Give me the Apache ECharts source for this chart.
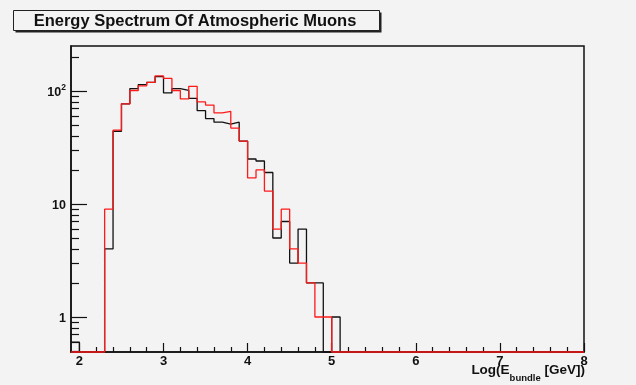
<!DOCTYPE html>
<html>
<head>
<meta charset="utf-8">
<script src="https://cdn.jsdelivr.net/npm/echarts@6/dist/echarts.min.js"></script>
<style>
  html, body { margin: 0; padding: 0; background: #f3f3f3; }
  #chart { width: 636px; height: 385px; }
</style>
</head>
<body>
<div id="chart"></div>
<script>
// Histogram binning: first bin starts at 1.9, bins are 0.1 wide in log10(E/GeV)
const binLowEdge = 1.9;
const binWidth = 0.1;

// Bin contents from 1.9 up to 5.1 (all later bins are empty)
const countsBlack = [0.6, 0, 0, 0, 4, 44, 77, 105, 114, 119, 134, 96, 105, 101, 86, 67,
                     57, 53, 51, 53, 36, 25, 24, 19, 5, 7, 3, 6, 2, 2, 0, 1];
const countsRed   = [0, 0, 0, 0, 9, 45, 77, 101, 111, 119, 136, 129, 101, 85, 110, 80,
                     75, 64, 66, 47, 36, 17, 20, 13, 6, 9, 4, 3, 2, 1, 1, 0];

// Axis ranges and labelled ticks
const xMin = 1.9, xMax = 8;
const yMin = 0.49, yMax = 250;
const xMajorTicks = [2, 3, 4, 5, 6, 7, 8];
const yMajorTicks = [1, 10, 100];

const titleText = 'Energy Spectrum Of Atmospheric Muons';

// x minor ticks: every 0.2 between labelled ticks
const xMinorTicks = [];
xMajorTicks.slice(0, -1).forEach(t => {
  for (let k = 1; k < 5; k++) xMinorTicks.push(+(t + 0.2 * k).toFixed(2));
});
// y minor ticks: 2..9 times each decade inside the range
const yMinorTicks = [];
[0.1, 1, 10, 100].forEach(d => {
  for (let m = 2; m <= 9; m++) {
    const v = +(d * m).toPrecision(3);
    if (v > yMin && v < yMax) yMinorTicks.push(v);
  }
});

// Step outline of a histogram; empty bins sit on the floor of the log axis
function stepPoints(counts) {
  const pts = counts.map((c, i) => [+(binLowEdge + i * binWidth).toFixed(2), c > 0 ? c : yMin]);
  const end = +(binLowEdge + counts.length * binWidth).toFixed(2);
  pts.push([end, yMin]);
  pts.push([xMax, yMin]);
  return pts;
}

const bg = '#f3f3f3';
const ink = '#111';
const font = 'Liberation Sans, Arial, Helvetica, sans-serif';

const chart = echarts.init(document.getElementById('chart'), null, { renderer: 'canvas' });

chart.setOption({
  backgroundColor: bg,
  animation: false,
  grid: {
    left: 71, top: 46, right: 52, bottom: 33,
    show: true, borderColor: ink, borderWidth: 1.5, backgroundColor: 'transparent'
  },
  xAxis: [
    {
      type: 'value', min: xMin, max: xMax, position: 'bottom',
      axisLine: { show: true, onZero: false, lineStyle: { color: ink, width: 1.5 } },
      axisTick: { show: true, inside: true, length: 9, customValues: xMajorTicks,
                  lineStyle: { color: ink, width: 1.2 } },
      axisLabel: { show: true, customValues: xMajorTicks, margin: 3,
                   fontFamily: font, fontWeight: 'bold', fontSize: 13, color: ink },
      splitLine: { show: false }
    },
    {
      type: 'value', min: xMin, max: xMax, position: 'bottom',
      axisLine: { show: false, onZero: false },
      axisTick: { show: true, inside: true, length: 5, customValues: xMinorTicks,
                  lineStyle: { color: ink, width: 1.2 } },
      axisLabel: { show: false },
      splitLine: { show: false }
    }
  ],
  yAxis: [
    {
      type: 'log', logBase: 10, min: yMin, max: yMax, position: 'left',
      axisLine: { show: true, onZero: false, lineStyle: { color: ink, width: 1.5 } },
      axisTick: { show: true, inside: true, length: 16, customValues: yMajorTicks,
                  lineStyle: { color: ink, width: 1.2 } },
      axisLabel: {
        show: true, customValues: yMajorTicks, margin: 5,
        formatter: v => {
          const r = Math.round(v);
          return r === 100 ? '{b|10}{s|2}' : '{b|' + r + '}';
        },
        rich: {
          b: { fontFamily: font, fontWeight: 'bold', fontSize: 12.5, color: ink,
               lineHeight: 16, verticalAlign: 'bottom' },
          s: { fontFamily: font, fontWeight: 'bold', fontSize: 8.5, color: ink,
               lineHeight: 16, verticalAlign: 'top' }
        }
      },
      splitLine: { show: false }
    },
    {
      type: 'log', logBase: 10, min: yMin, max: yMax, position: 'left',
      axisLine: { show: false, onZero: false },
      axisTick: { show: true, inside: true, length: 8, customValues: yMinorTicks,
                  lineStyle: { color: ink, width: 1.2 } },
      axisLabel: { show: false },
      splitLine: { show: false }
    }
  ],
  series: [
    {
      name: 'black', type: 'line', step: 'end', xAxisIndex: 0, yAxisIndex: 0,
      data: stepPoints(countsBlack), showSymbol: false, symbol: 'none', clip: false,
      lineStyle: { color: '#111', width: 1.3 }, z: 3
    },
    {
      name: 'red', type: 'line', step: 'end', xAxisIndex: 0, yAxisIndex: 0,
      data: stepPoints(countsRed), showSymbol: false, symbol: 'none', clip: false,
      lineStyle: { color: '#ff1a1a', width: 1.3 }, z: 4
    }
  ],
  graphic: [
    // title box with drop shadow
    { type: 'rect', x: 15.5, y: 12.5, shape: { x: 0, y: 0, width: 366, height: 20 },
      style: { fill: '#222' }, z: 10 },
    { type: 'rect', x: 13.5, y: 10.5, shape: { x: 0, y: 0, width: 366, height: 20 },
      style: { fill: bg, stroke: '#222', lineWidth: 1 }, z: 11 },
    { type: 'text', x: 195, y: 21, z: 12,
      style: { text: titleText, fontFamily: font, fontWeight: 'bold', fontSize: 16.5,
               fill: ink, align: 'center', verticalAlign: 'middle' } },
    // x-axis title with subscript
    { type: 'text', right: 51, top: 363, z: 12,
      style: {
        text: '{m|Log(E}{u|bundle}{m| [GeV])}',
        rich: {
          m: { fontFamily: font, fontWeight: 'bold', fontSize: 13.5, fill: ink, color: ink,
               lineHeight: 20, verticalAlign: 'top' },
          u: { fontFamily: font, fontWeight: 'bold', fontSize: 9.5, fill: ink, color: ink,
               lineHeight: 20, verticalAlign: 'bottom' }
        }
      } }
  ]
});
</script>
</body>
</html>
